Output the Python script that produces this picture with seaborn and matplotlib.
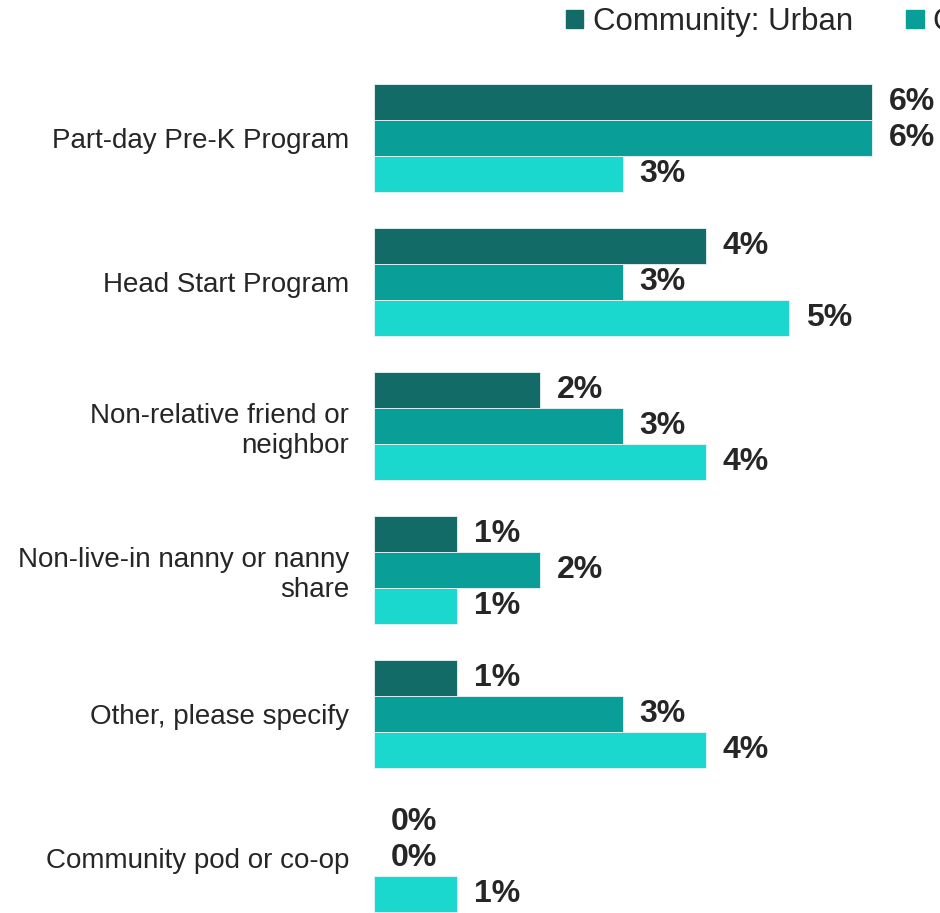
import pandas as pd
import matplotlib.pyplot as plt
import seaborn as sns

# ---------- DATA ----------
categories = [
    "Part-day Pre-K Program",
    "Head Start Program",
    "Non-relative friend or\nneighbor",
    "Non-live-in nanny or nanny\nshare",
    "Other, please specify",
    "Community pod or co-op",
]
groups = ["Community: Urban", "Community: Suburban", "Community: Rural"]
urban = [6, 4, 2, 1, 1, 0]
suburban = [6, 3, 3, 2, 3, 0]
rural = [3, 5, 4, 1, 4, 1]

colors = ["#136B67", "#0A9E98", "#1BD8CE"]

df = pd.DataFrame({
    "category": categories * 3,
    "group": [groups[0]] * 6 + [groups[1]] * 6 + [groups[2]] * 6,
    "value": urban + suburban + rural,
})

# ---------- PLOT ----------
sns.set_style("white")
plt.rcParams["font.family"] = ["Liberation Sans", "DejaVu Sans"]

fig = plt.figure(figsize=(9.4, 9.13), dpi=100)
ax = fig.add_axes([374 / 940, 0, 566 / 940, (913 - 66) / 913])

sns.barplot(
    data=df, y="category", x="value", hue="group",
    hue_order=groups, palette=colors, orient="h", saturation=1,
    width=0.75, edgecolor="#e8f6f5", linewidth=0.6,
    legend=False, ax=ax,
)

# no outline on empty bars
for p in ax.patches:
    if p.get_width() == 0:
        p.set_linewidth(0)

for cont, vals in zip(ax.containers, [urban, suburban, rural]):
    ax.bar_label(cont, labels=[f"{v}%" for v in vals], padding=12,
                 fontsize=23, fontweight="bold", color="#262626")

ax.set_xlim(0, 566 / 83)
ax.set_ylim(5.382, -0.5)
ax.set_xlabel("")
ax.set_ylabel("")
ax.set_xticks([])
ax.tick_params(axis="y", length=0, pad=18, labelsize=20, labelcolor="#262626")
sns.despine(ax=ax, left=True, bottom=True)

handles = [plt.Rectangle((0, 0), 1, 1, color=c) for c in colors]
fig.legend(handles, groups, loc="center left", bbox_to_anchor=(566 / 940, 1 - 22 / 913),
           ncol=3, frameon=False, fontsize=22.5, handlelength=0.55, handleheight=0.55,
           handletextpad=0.3, columnspacing=1.72, labelcolor="#262626",
           borderaxespad=0, borderpad=0)

fig.savefig("out.png", dpi=100)
